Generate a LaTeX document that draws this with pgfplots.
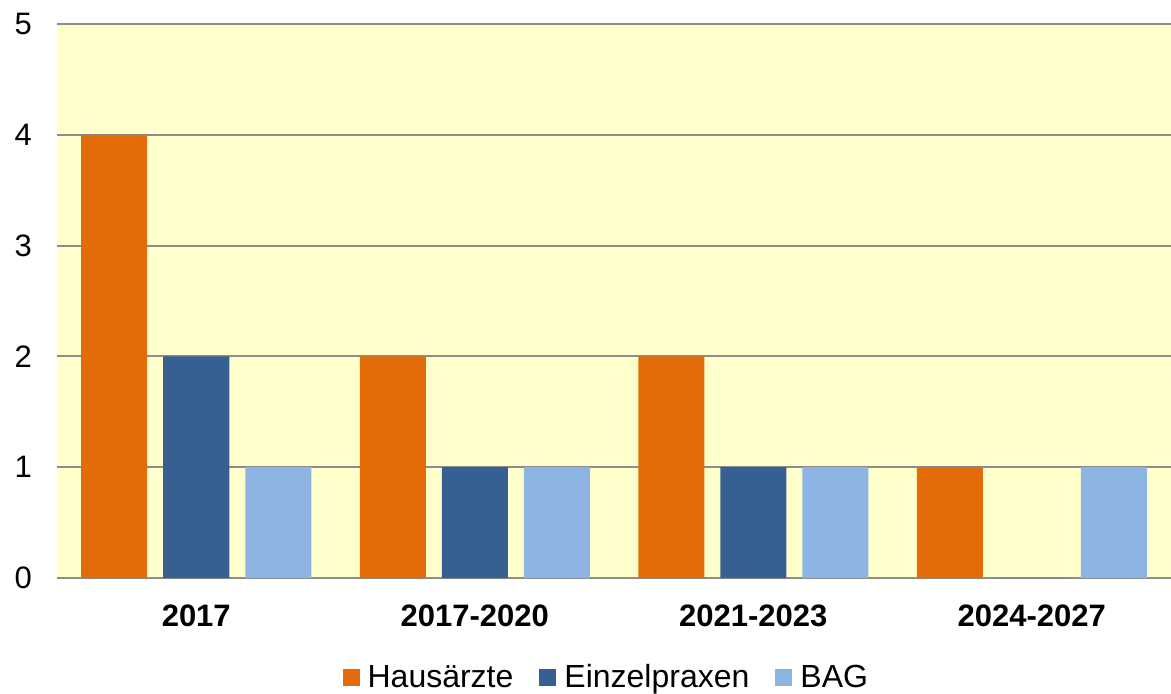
\documentclass[border=0pt]{standalone}
\usepackage{pgfplots}
\pgfplotsset{compat=1.18}
\usepackage{fontspec}
\setmainfont{Liberation Sans}
\definecolor{bgc}{HTML}{FFFFCC}
\definecolor{c1}{HTML}{E36C09}
\definecolor{c2}{HTML}{366092}
\definecolor{c3}{HTML}{8EB4E3}
\definecolor{gc}{HTML}{8C8C8C}
\begin{document}
\begin{tikzpicture}
\begin{axis}[
  scale only axis,
  width=557pt, height=277pt,
  xmin=-0.5, xmax=3.5, ymin=0, ymax=5,
  axis background/.style={fill=bgc},
  axis line style={draw=none},
  ytick={0,1,2,3,4,5},
  xtick={0,1,2,3},
  xticklabels={2017,2017-2020,2021-2023,2024-2027},
  major tick length=0pt,
  ymajorgrids,
  grid style={gc, line width=1pt},
  /pgf/number format/assume math mode=true,
  yticklabel style={font=\fontsize{15.5}{18}\selectfont, anchor=east},
  yticklabel shift=9pt,
  xticklabel style={font=\fontsize{15.5}{18}\selectfont\bfseries, anchor=north},
  xticklabel shift=10pt,
  ybar=8pt, bar width=33pt,
  legend style={at={(0.494,-0.18)}, anchor=center, draw=none, fill=none,
    font=\fontsize{16}{19}\selectfont, legend columns=3,
    /tikz/every even column/.append style={column sep=11pt}},
  legend image code/.code={\fill[#1] (0pt,-4.2pt) rectangle (8.5pt,4.2pt);},
  legend cell align=left,
]
\addplot[fill=c1, draw=none] coordinates {(0,4) (1,2) (2,2) (3,1)};
\addplot[fill=c2, draw=none] coordinates {(0,2) (1,1) (2,1) (3,0)};
\addplot[fill=c3, draw=none] coordinates {(0,1) (1,1) (2,1) (3,1)};
\legend{\hspace{2pt}Hausärzte, \hspace{2pt}Einzelpraxen, \hspace{2pt}BAG}
\end{axis}
\pgfresetboundingbox
\path (-28.5pt,-57.5pt) rectangle (557pt,289pt);
\end{tikzpicture}
\end{document}
